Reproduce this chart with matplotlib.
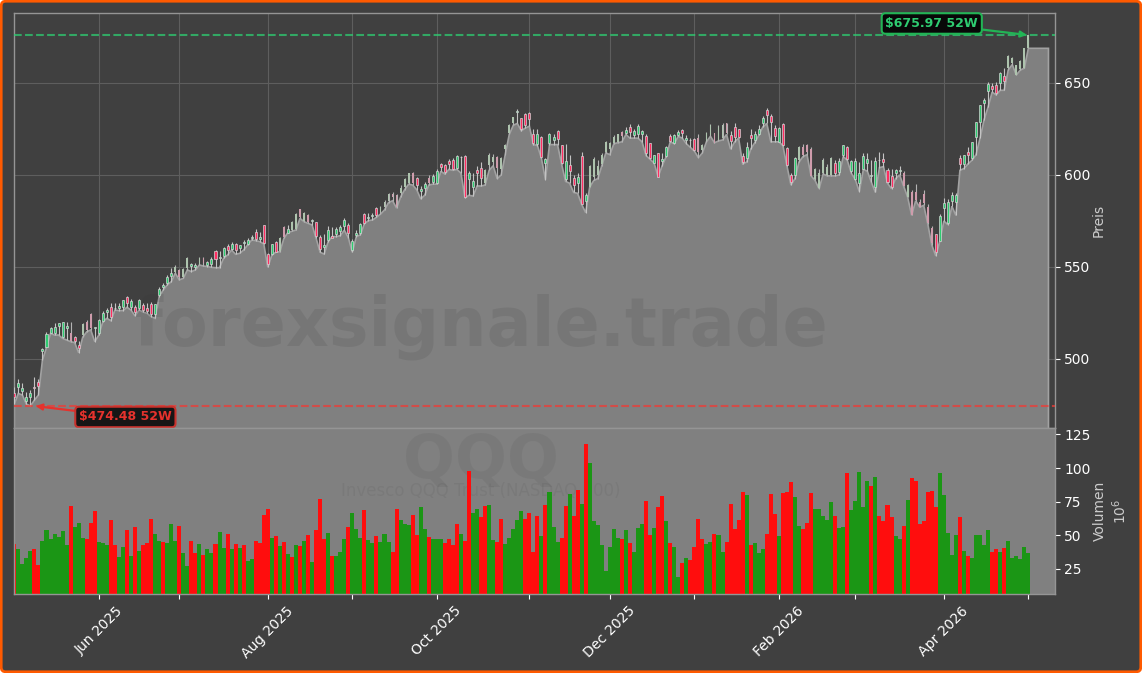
import numpy as np
import matplotlib
matplotlib.use("Agg")
from matplotlib import pyplot as plt
from matplotlib.patches import FancyBboxPatch

# QQQ daily candles
opens = [
    481.3,484.6,482.4,477.3,479.5,484.6,487.7,504.5,506.7,514.3,
    514.3,518.1,511.8,517,514.3,512.1,507.6,513,520.3,524.3,
    516.7,514.3,520.8,525.7,528.1,527.9,527.9,528.4,533.5,528.4,
    528.1,527.7,529.3,527.5,529.9,524.4,535,539.3,541.5,545.1,
    547,548.4,544.4,549.3,550.7,550.2,551.6,555.1,551.1,551.6,
    558.7,554.7,556.2,561.6,559.6,562.5,560.3,562.9,562.5,565.6,
    569,565.4,572.8,556.9,557.1,563.8,558.9,571.6,568.7,570.1,
    570.5,581.3,575.2,578.3,574.8,574.3,566.5,561,564.7,567,
    568,569.8,572,572.8,559,567.3,568.7,578.8,576.5,577.7,
    581.9,579.7,582.4,586,589.7,589.1,590,593.7,595.8,600.9,
    598.4,591.1,592.8,598.2,596.4,595.8,605.8,605.3,607.6,608.2,
    604,609.7,610.3,598,593.7,602.7,603.6,595.5,605.4,607.2,
    610,603,614,622.6,628,634.1,630.8,633.2,633.5,622.3,
    616.9,620.5,606.7,617.6,619,623.7,616.1,598,605.3,598.4,
    595.8,610.3,586,593.7,598.7,600,606,612.7,614,617.2,
    618.1,623.6,623,625.9,621.6,622.3,622.3,621.2,617.2,606.7,
    611.8,607.8,610.5,621.2,617.6,621.6,624.3,619,618.8,619.4,
    619.9,613.6,618.5,621.7,622.6,619,619.9,628,621.6,625.9,
    624.8,610.3,609.1,621.9,619,622.3,628.4,635.3,632,625.5,
    618.1,627.7,614.5,599.8,599.8,608.2,615.4,616.3,614,597.6,
    592.8,600.9,600,600,606.3,601.8,610.7,615,602.4,598,
    595.8,603.4,606.7,599.5,593.7,608,608.5,602.7,599.5,601,
    602.2,601.3,588.2,590.8,591,585.5,589.7,582.8,571,567.9,
    564.3,581.9,574.1,586,585.5,609.4,606,612.5,609.4,620.5,
    629,639.3,645.8,648.4,648.7,650.2,653.8,658,660.7,654.3,
    657.4,658,668.8]
closes = [
    479.5,486.8,484.2,479.2,481.3,484.2,485.3,505.6,513.6,516.7,
    517.6,519.6,520.3,517.9,510,510,505.8,518.8,515.8,516.7,
    517.6,521.2,524.8,526.6,522.6,527.5,528.8,532,530.2,531.7,
    525.7,532,526.6,526.3,524.3,529.7,537.9,540.2,544.4,546.8,
    550.2,544.4,549,554.7,551.4,551.1,554.7,552.4,552.9,554.3,
    554.3,555.6,560.1,559.2,562.5,559.2,562,563.6,564.7,566.1,
    565,566.1,563.2,551.6,562.3,558.2,566,566.5,570.5,574.6,
    578.8,577.4,579.2,574.6,575.5,567,560,562,570.1,566,
    570.5,571.6,575.6,568.3,564,568.5,573.2,574.1,577,578.3,
    578.3,582.7,585.5,589.7,588.2,582.4,593,597.6,600.9,595.8,
    594.6,592.4,594.9,595.5,599.3,602.2,604.4,601.6,606.2,603.1,
    610.3,610,588.2,600.9,596.6,600.9,598.6,602.7,610.9,610,
    603.6,609,616.3,627.2,631.3,634.5,624.8,627.4,630.4,617.2,
    622.1,609.6,608.5,622.5,620.5,619.8,606.7,607.4,602.4,594.8,
    598.7,584.2,589,604.9,608.7,605,611,618.1,617.6,620.8,
    622.3,621.2,624.3,623.4,623.7,626.6,624.1,612.1,609.1,610.7,
    599.1,608.5,615.4,618.7,621.6,623.4,622.6,620.3,619.1,613.6,
    612.7,616.3,623,627.2,617.6,626.3,627.2,622.6,618.7,620.8,
    620.8,607.2,615.4,620.1,622.3,624.8,631,632.8,629,621.2,
    625.5,616.1,605.3,596.4,609.2,615.4,610.9,612.7,599.5,603,
    600.9,608.2,604.5,609.1,600.9,607.6,616.1,608.5,607.4,607.8,
    600.9,610.3,608.5,600,607.8,608.2,607,596.4,593.3,602.7,
    602.7,594,594.6,578.3,586.4,582.8,584.6,573.7,562.9,558.3,
    577.9,584.6,585.5,589.1,589.1,606,610.7,610.9,617.8,628.6,
    637.9,640.8,649.5,646.9,644.4,655.3,651.3,664.7,663.5,659.8,
    662,668.8,676]
highs = [
    485,488.9,486.8,482.2,483.1,490.4,489,505.8,514.8,517.6,
    519.4,519.7,520.3,520.3,520.3,512.5,510,519.4,521.2,524.8,
    517.6,521.5,526.3,527.5,530.6,530.2,530.2,532,534.4,532.4,
    529.3,532.4,530.2,530.2,531.2,529.9,539.3,541.5,545.7,549.3,
    550.9,548.7,549.3,555.3,552.4,552,555.3,555.6,553.4,555.6,
    559.2,558.7,560.7,562.3,563.8,562.9,562,564.7,565.6,567.2,
    570.5,569.2,572.8,557.4,562.5,564.3,566.1,572,572.8,575.2,
    579.2,581.7,579.9,578.6,575.9,574.5,567.5,568,572.3,571.6,
    571.5,573,576.5,574,565,570,574,579.5,579.2,579.5,
    582.5,583.3,586.5,590,591,589.5,594.5,598.5,601,601.5,
    598.7,594,596,600,600.5,603,606.3,606,608.5,609,
    611,610.3,611,602,601,605,607,603.5,612,611.5,
    610.3,610,616.7,627.7,631.6,635.6,631.2,633.5,634,625,
    625,621,609,623,622,624.5,616.5,617,611,600,
    601,612.5,590,605.5,610,608,612,618.5,618,621.5,
    622.5,624,626,627.5,625,627.5,624.5,622,617.5,611,
    612,612,616,622,622.5,624.5,625,621.5,620,620,
    622,617,623.5,627.5,623,627,628,628.5,624,628,
    625,612,618,625,624,627,632,636.2,633,627,
    626,628.5,615,601,610,616,617,617,615,604,
    603,609,606,610,608,609,616.5,615.5,608,609,
    607,612,612,608,610,612.5,612,604,603,603.5,
    605,602,595,592,595,587,592,584,572,568,
    579,587.5,587,590.5,590,611,611,615,618,628.9,
    638,642,650.5,650,650.5,656,658,665,664.3,660,
    662.5,669,675.97]
lows = [
    475.5,481.3,480.4,475.5,474.48,477.7,480.4,499.5,506.3,513.9,
    513,513,511.2,510.3,509.4,508.9,503.4,511.8,514.8,515.8,
    509.4,513,520.3,522.1,520.8,526.6,526.3,526.3,528.1,526.6,
    523.4,526.6,525.5,524.8,523,522.1,533.9,537.5,540.2,542,
    546.6,543,543.8,548.4,547.5,548.4,551.1,550.5,550.2,549.8,
    549.6,549.6,554.7,556.5,559.2,556.9,557.4,559.2,562,564.7,
    564.3,563.8,562.5,549.8,556.5,558,558.3,565.6,568.7,569.4,
    570.1,576.4,574.6,573.7,572.8,565.6,558,557,563.8,566.5,
    566.5,567,570,566,558,566.5,567.5,573.5,575.2,575.5,
    577,578.7,581,585,586,582,588,592,595,594.5,
    592,587,589,594.5,595,595,602,600.5,603,602.5,
    603,601,587.5,589,588.5,594,594,594.5,602.5,605,
    598,600,611,622,627,628,624,625.5,626.5,616.5,
    616,609,597.5,616.5,616.5,616.5,606,596.5,595.5,590.5,
    590,584,579.5,593.5,597,598,605,612,611,617,
    617.5,618,622,620,620,620,618,610.5,608.5,606.5,
    599,605,610,618,617,621,620,617,615,613,
    609.4,612,618,621,617.5,618.5,619,622,614,618,
    620,606,607,614,617.5,621.5,626,628,618,618,
    618,616,605,594.5,598,607,610,611,599.5,597,
    592.5,600.5,599.5,599.5,599.5,600,610,608,601,597.5,
    591,603,602,596,590.5,604,604.5,595.5,592.5,598,
    600,594,588,578,586,582.5,583.5,573.5,562,556,
    564,575,573,583,578,602.5,603.5,606,608,611,
    620,630,637,645,643.5,646,646,657,660,654.3,
    657,658,668.8]
# volume in millions
volumes = [
    43.4,39.4,28.5,33,38.2,39.4,27.8,45.6,53.6,47.4,
    50.6,48.6,53,42.7,71.5,56.3,58.8,47.6,47,59,
    68,45,44,42.4,61.3,42.7,33.7,41,53.8,34.5,
    56,38.5,43,44.4,62.3,50.8,45.6,45,44,58.3,
    46,56.8,36.7,27,46,36.7,43.4,35.2,39.4,36.7,
    43.4,52.4,40.4,50.8,39.7,43.4,40.4,42.7,30.8,32.3,
    45.6,44,65,69.5,48,49.4,42,45,36,33.7,
    42.7,42,45.6,50,30,53.8,77,47,51.6,34.5,
    34.5,37.5,47,56,66.5,54.6,48,68.7,46.4,44,
    49.4,45,50.8,45,37.5,69.5,61.3,58.3,57.6,65,
    50,70.7,54.6,48.6,47,47,47,44,47,42.7,
    58.3,50.8,45.6,97.8,66.5,69.5,63.5,71.7,72.5,46.4,
    45,62,43.4,48,54.6,61.3,68,62,66.5,37.5,
    64,49.4,72.5,82,56,45,48,71.7,80.6,64,
    83.6,73,117.8,103.7,60.5,57.6,42.7,23.3,41,54.6,
    48,47,53.8,44,37.5,55.3,58.3,75.4,50,55.3,
    71,79.2,60.5,44,41,18.9,29.3,33,31.5,41,
    62,47,43.4,45,50.8,50,37.5,45,73.2,54.6,
    61.3,82,80,42.7,44,36.7,39.7,50.8,80.6,65.8,
    49.4,81.4,82,89.6,78.4,56.8,54.6,59,81.4,69.5,
    69.5,64,61.3,74.7,64,55.3,56,96.3,68.7,75.4,
    97,71,90.3,86.6,93.3,64,60.5,72.5,63.5,49.4,
    47,56.8,76.2,92.5,90.3,58.3,60.5,82,82.8,71,
    96.3,80,51.4,35.2,50,63.5,38.2,34.5,33,50,
    50,42.7,53.8,37.5,39.7,37.5,40.4,45.6,33,34.5,
    32.3,41,36.7]
vol_dir = ("RGGGGRRGGGGGGGRGGGRR"
           "RGGGRRGGRGRGRRRGGRGG"
           "GRGGRRGRGGRGGRGRGRGG"
           "RRRRGRGRGRGRGRGRRRGR"
           "GGGRGGGRGGRGGGRRGGGR"
           "RGGRGGGRRRRGRRGGRRGG"
           "RRGGGGGRRRRGRGGGRRGR"
           "RGRGGGGGGGGRGRGGGRRG"
           "RRGRGGRGRRRRGGRGGRRR"
           "RRGRGGGRRRGRRRGGRRRG"
           "GGGGRGGRGGGGGRGRRRRG"
           "GRGRRRRRRRGGGGGRGRGG"
           "GGGRRGRGGGGGG")
faded = [14, 17, 18, 19, 40, 41, 42, 43, 46, 47, 66, 67, 69, 70, 71, 72, 73,
         91, 92, 93, 94, 95, 96, 97, 98, 99, 103, 117, 118, 119, 120, 121, 122,
         123, 124, 143, 144, 145, 146, 147, 148, 149, 150, 151,
         170, 171, 172, 173, 174, 175, 176, 177,
         195, 196, 197, 198, 199, 200, 201, 202, 203,
         221, 222, 223, 224, 225, 226, 227, 228,
         247, 248, 249, 250, 251, 252]

tick_pos = [21, 41, 63, 84, 105, 128, 148, 169, 190, 209, 231, 252]
tick_names = ["Jun 2025", "", "Aug 2025", "", "Oct 2025", "", "Dec 2025", "",
              "Feb 2026", "", "Apr 2026", ""]
price_ticks = [500, 550, 600, 650]
vol_ticks = [25, 50, 75, 100, 125]
low_52w = 474.48
high_52w = 675.97

W, H = 1142.0, 673.0
BG = "#404040"
GREY = "#808080"

fig = plt.figure(figsize=(11.42, 6.73), dpi=100, facecolor="white")
fig.patches.append(FancyBboxPatch((1.2 / W, 1.2 / H), 1 - 2.4 / W, 1 - 2.4 / H,
                                  boxstyle="round,pad=0,rounding_size=0.004",
                                  transform=fig.transFigure, facecolor=BG,
                                  edgecolor="#ff5a00", linewidth=2.0, mutation_aspect=W / H,
                                  zorder=-1))

ax = fig.add_axes([13.5 / W, 1 - 428 / H, 1041 / W, 415 / H], facecolor=BG)
axv = fig.add_axes([13.5 / W, 1 - 594 / H, 1041 / W, 166 / H], facecolor=GREY)

x = np.arange(len(closes))

# area under the lows, runs on a little past the last candle
fill_x = np.concatenate(([0], x, [257, 257, 0]))
fill_y = np.concatenate(([400], lows, [lows[-1], 400, 400]))
ax.fill(fill_x, fill_y, facecolor=GREY, edgecolor="#a2a2a2", linewidth=1.2, zorder=2)

ax.text(0.449, 0.245, "forexsignale.trade", transform=ax.transAxes, ha="center", va="center",
        fontsize=48, fontweight="bold", color="#333333", alpha=0.12, zorder=2.5)

for i in x:
    o, c = opens[i], closes[i]
    up = c >= o
    if i in faded:
        ax.vlines(i, lows[i], highs[i], color="#b4b4b4", linewidth=0.8, zorder=3)
        ax.bar(i, abs(c - o), bottom=min(o, c), width=0.45,
               color="#aec4ae" if up else "#cf9cac", linewidth=0, zorder=4)
    else:
        ax.vlines(i, lows[i], highs[i], color="#c4c4c4", linewidth=0.8, zorder=3)
        ax.bar(i, abs(c - o), bottom=min(o, c), width=0.5,
               color="#2ecc71" if up else "#ff2d62", edgecolor="#d4d4d4", linewidth=0.5, zorder=4)

ax.axhline(high_52w, color="#2ecc71", linestyle="--", linewidth=1.5, alpha=0.75, zorder=5)
ax.axhline(low_52w, color="#ef3b36", linestyle="--", linewidth=1.5, alpha=0.75, zorder=5)

ax.annotate("$%.2f 52W" % high_52w, xy=(252, high_52w), xytext=(228, 682.3),
            ha="center", va="center", fontsize=9, fontweight="bold", color="#2ecc71", zorder=7,
            bbox=dict(boxstyle="round,pad=0.3", facecolor="#080808", edgecolor="#22b455", linewidth=1.5),
            arrowprops=dict(arrowstyle="-|>", color="#22b455", lw=1.6, shrinkA=0, shrinkB=1))
ax.annotate("$%.2f 52W" % low_52w, xy=(5, low_52w), xytext=(27.6, 468.5),
            ha="center", va="center", fontsize=9, fontweight="bold", color="#e5322d", zorder=7,
            bbox=dict(boxstyle="round,pad=0.3", facecolor="#161616", edgecolor="#c8322d", linewidth=1.5),
            arrowprops=dict(arrowstyle="-|>", color="#e5322d", lw=1.6, shrinkA=0, shrinkB=1))

ax.set_xlim(-0.2, 258.5)
ax.set_ylim(462.5, 688)
ax.set_xticks(tick_pos)
ax.set_yticks(price_ticks)
ax.tick_params(axis="x", length=0, labelbottom=False)
ax.tick_params(axis="y", left=False, labelleft=False, right=True, labelright=True, colors="white")
ax.grid(True, color="#5e5e5e", linewidth=0.8, zorder=0)
ax.set_axisbelow(True)
ax.yaxis.set_label_position("right")
ax.set_ylabel("Preis", color="#cccccc", fontsize=10, labelpad=1)

axv.text(0.449, 0.80, "QQQ", transform=axv.transAxes, ha="center", va="center",
         fontsize=44, fontweight="bold", color="#333333", alpha=0.08, zorder=1)
axv.text(0.449, 0.62, "Invesco QQQ Trust (NASDAQ 100)", transform=axv.transAxes, ha="center", va="center",
         fontsize=12, color="#333333", alpha=0.08, zorder=1)
vol_colors = ["#1b9615" if d == "G" else "#ff0d0d" for d in vol_dir]
axv.bar(x, volumes, width=1.0, color=vol_colors, linewidth=0, zorder=2)
axv.set_xlim(-0.2, 258.5)
axv.set_ylim(6.2, 129.8)
axv.set_xticks(tick_pos)
axv.set_xticklabels(tick_names, rotation=45, color="white", fontsize=10)
axv.set_yticks(vol_ticks)
axv.tick_params(axis="x", colors="white")
axv.tick_params(axis="y", left=False, labelleft=False, right=True, labelright=True, colors="white")
axv.yaxis.set_label_position("right")
axv.set_ylabel("Volumen\n$10^{6}$", color="#cccccc", fontsize=10, labelpad=2)

for a in (ax, axv):
    for s in a.spines.values():
        s.set_color("#959595")
        s.set_linewidth(1.0)

fig.savefig("out.png", dpi=100, facecolor=fig.get_facecolor())
